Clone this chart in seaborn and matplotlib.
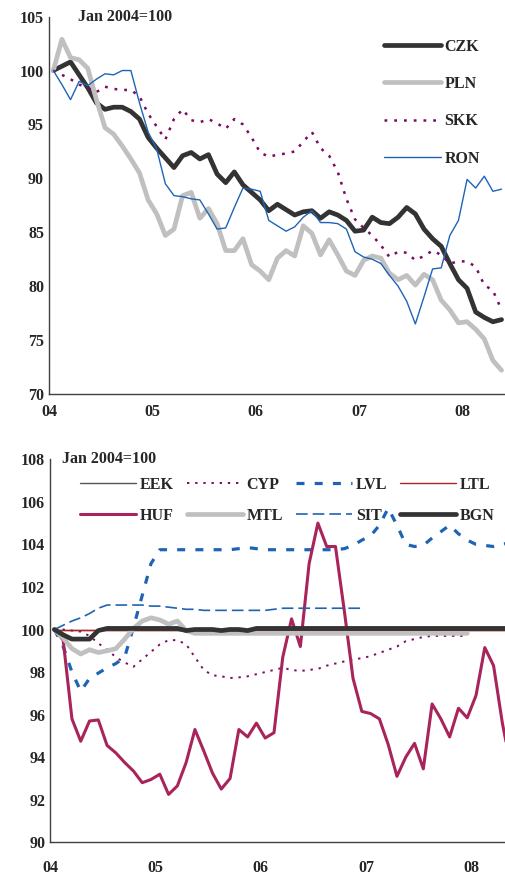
import matplotlib
matplotlib.use("Agg")
import matplotlib.pyplot as plt
import seaborn as sns

# month index (0 = Jan 2004), points drawn at mid-month
czk = [100.0, 100.4, 100.8, 99.6, 98.4, 97.0, 96.4, 96.6, 96.6, 96.2,
       95.5, 93.8, 92.8, 91.9, 91.0, 92.1, 92.4, 91.8, 92.2, 90.4,
       89.6, 90.6, 89.4, 88.7, 88.0, 87.0, 87.6, 87.1, 86.6, 86.9,
       87.0, 86.3, 86.9, 86.6, 86.1, 85.1, 85.2, 86.4, 85.9, 85.8,
       86.4, 87.3, 86.7, 85.3, 84.4, 83.7, 82.1, 80.6, 79.8, 77.6,
       77.1, 76.7, 76.9]
pln = [100.0, 102.9, 101.2, 101.0, 100.2, 97.3, 94.7, 94.1, 93.0, 91.8,
       90.5, 88.0, 86.7, 84.7, 85.3, 88.4, 88.7, 86.3, 87.2, 85.8,
       83.3, 83.3, 84.4, 82.0, 81.4, 80.6, 82.6, 83.3, 82.8, 85.6,
       84.9, 82.9, 84.3, 82.9, 81.4, 81.0, 82.4, 82.8, 82.6, 81.2,
       80.6, 81.0, 80.1, 81.1, 80.6, 78.7, 77.8, 76.6, 76.7, 76.0,
       75.1, 73.1, 72.2]
skk = [100.0, 99.6, 99.2, 98.7, 98.4, 98.0, 98.5, 98.3, 98.2, 98.2,
       97.6, 96.0, 94.8, 93.6, 95.5, 96.4, 95.4, 95.2, 95.5, 95.1,
       94.6, 95.5, 95.0, 93.8, 92.4, 92.0, 92.2, 92.3, 92.5, 93.4,
       94.3, 92.8, 92.1, 90.6, 88.1, 86.2, 85.4, 84.7, 83.8, 82.7,
       83.2, 83.1, 82.4, 82.8, 83.3, 82.9, 82.1, 82.3, 82.3, 81.8,
       80.1, 79.6, 77.8]
ron = [100.0, 98.7, 97.3, 99.0, 98.6, 99.2, 99.7, 99.6, 100.0, 100.0,
       97.0, 94.3, 92.7, 89.5, 88.4, 88.3, 88.1, 88.0, 86.7, 85.3,
       85.4, 87.3, 89.1, 89.0, 88.8, 86.1, 85.6, 85.1, 85.5, 86.4,
       87.0, 85.9, 85.9, 85.8, 85.3, 83.2, 82.7, 82.5, 82.1, 81.0,
       80.0, 78.6, 76.5, 79.0, 81.6, 81.7, 84.7, 86.1, 89.9, 89.1,
       90.2, 88.8, 89.0]

eek = [100.0, 100.0, 100.0, 100.0, 100.0, 100.0, 100.0, 100.0, 100.0, 100.0,
       100.0, 100.0, 100.0, 100.0, 100.0, 100.0, 100.0, 100.0, 100.0, 100.0,
       100.0, 100.0, 100.0, 100.0, 100.0, 100.0, 100.0, 100.0, 100.0, 100.0,
       100.0, 100.0, 100.0, 100.0, 100.0, 100.0, 100.0, 100.0, 100.0, 100.0,
       100.0, 100.0, 100.0, 100.0, 100.0, 100.0, 100.0, 100.0, 100.0, 100.0,
       100.0, 100.0, 100.0]
cyp = [100.0, 100.0, 99.95, 99.9, 99.7, 99.35, 99.05, 98.7, 98.45, 98.25,
       98.6, 98.95, 99.3, 99.5, 99.5, 99.3, 98.7, 98.1, 97.85, 97.8,
       97.72, 97.75, 97.8, 97.9, 98.0, 98.1, 98.2, 98.1, 98.05, 98.1,
       98.15, 98.3, 98.4, 98.5, 98.6, 98.65, 98.75, 98.9, 99.05, 99.2,
       99.45, 99.55, 99.65, 99.7, 99.7, 99.7, 99.7, 99.7]
lvl = [100.0, 99.2, 98.0, 97.1, 97.7, 97.95, 98.2, 98.4, 98.7, 100.1,
       101.6, 103.1, 103.75, 103.75, 103.75, 103.75, 103.75, 103.75, 103.75, 103.75,
       103.75, 103.8, 103.85, 103.8, 103.75, 103.75, 103.75, 103.75, 103.75, 103.75,
       103.75, 103.75, 103.75, 103.8, 103.95, 104.2, 104.4, 104.9, 105.7, 104.9,
       104.0, 103.9, 103.95, 104.3, 104.6, 104.9, 104.5, 104.2, 104.0, 103.95,
       103.9, 104.0, 104.1]
ltl = [100.0, 100.0, 100.0, 100.0, 100.0, 100.0, 100.0, 100.0, 100.0, 100.0,
       100.0, 100.0, 100.0, 100.0, 100.0, 100.0, 100.0, 100.0, 100.0, 100.0,
       100.0, 100.0, 100.0, 100.0, 100.0, 100.0, 100.0, 100.0, 100.0, 100.0,
       100.0, 100.0, 100.0, 100.0, 100.0, 100.0, 100.0, 100.0, 100.0, 100.0,
       100.0, 100.0, 100.0, 100.0, 100.0, 100.0, 100.0, 100.0, 100.0, 100.0,
       100.0, 100.0, 100.0]
huf = [100.0, 99.5, 95.8, 94.75, 95.7, 95.75, 94.55, 94.2, 93.75, 93.35,
       92.8, 92.95, 93.2, 92.25, 92.65, 93.75, 95.3, 94.3, 93.25, 92.5,
       93.0, 95.3, 94.95, 95.6, 94.9, 95.15, 98.7, 100.5, 99.2, 103.1,
       105.0, 103.9, 103.9, 100.9, 97.7, 96.15, 96.05, 95.8, 94.6, 93.1,
       94.0, 94.65, 93.45, 96.5, 95.8, 94.95, 96.3, 95.85, 96.9, 99.15,
       98.3, 95.6, 93.5]
mtl = [100.0, 99.6, 99.1, 98.85, 99.05, 98.92, 99.0, 99.1, 99.55, 100.05,
       100.4, 100.55, 100.45, 100.25, 100.4, 99.95, 99.82, 99.82, 99.82, 99.82,
       99.82, 99.82, 99.82, 99.82, 99.82, 99.82, 99.82, 99.82, 99.82, 99.82,
       99.82, 99.82, 99.82, 99.82, 99.82, 99.82, 99.82, 99.82, 99.82, 99.82,
       99.82, 99.82, 99.82, 99.82, 99.82, 99.82, 99.82, 99.82]
sit = [100.0, 100.2, 100.4, 100.55, 100.75, 101.0, 101.15, 101.15, 101.15, 101.15,
       101.15, 101.1, 101.1, 101.05, 101.0, 100.95, 100.95, 100.9, 100.9, 100.9,
       100.9, 100.9, 100.9, 100.9, 100.9, 100.95, 101.0, 101.0, 101.0, 101.0,
       101.0, 101.0, 101.0, 101.0, 101.0, 101.0]
bgn = [100.0, 99.75, 99.55, 99.55, 99.55, 99.95, 100.05, 100.05, 100.05, 100.05,
       100.05, 100.05, 100.05, 100.05, 100.05, 99.95, 100.0, 100.0, 100.0, 99.95,
       100.0, 100.0, 99.95, 100.05, 100.05, 100.05, 100.05, 100.05, 100.05, 100.05,
       100.05, 100.05, 100.05, 100.05, 100.05, 100.05, 100.05, 100.05, 100.05, 100.05,
       100.05, 100.05, 100.05, 100.05, 100.05, 100.05, 100.05, 100.05, 100.05, 100.05,
       100.05, 100.05, 100.05]

year_labels = ["04", "05", "06", "07", "08"]

sns.set_style("white")
plt.rcParams["font.family"] = ["Liberation Serif", "DejaVu Serif"]
plt.rcParams["font.weight"] = "bold"

FS = 11.5
DARK = "#333333"
GREY = "#c0c0c0"
PURPLE = "#7a0a64"
BLUE = "#1f64b4"
CRIMSON = "#a8245a"
RED = "#b22222"
AXIS = "#404040"


def months(vals):
    return [i + 0.5 for i in range(len(vals))]


def style_axes(ax, ylo, yhi, ystep, xmax, xpad):
    ax.set_xlim(0, xmax)
    ax.set_ylim(ylo, yhi)
    ax.set_xticks([0, 12, 24, 36, 48])
    ax.set_xticklabels(year_labels)
    ax.set_yticks(range(ylo, yhi + 1, ystep))
    for s in ["top", "right"]:
        ax.spines[s].set_visible(False)
    for s in ["left", "bottom"]:
        ax.spines[s].set_color(AXIS)
        ax.spines[s].set_linewidth(1.0)
    ax.tick_params(axis="x", direction="in", length=3, pad=xpad, labelsize=FS,
                   color=AXIS)
    ax.tick_params(axis="y", direction="in", length=3, pad=3.5, labelsize=FS,
                   color=AXIS)
    for lab in ax.get_xticklabels() + ax.get_yticklabels():
        lab.set_fontweight("bold")
    ax.set_xlabel("")
    ax.set_ylabel("")


fig = plt.figure(figsize=(5.05, 8.75), dpi=100)
ax1 = fig.add_axes([0.097, 0.5497, 0.903, 0.4313])
ax2 = fig.add_axes([0.099, 0.0374, 0.901, 0.4377])

legend_font = dict(family="Liberation Serif", weight="bold", size=FS)

# ---- top panel
top_series = [
    ("CZK", czk, dict(color=DARK, lw=3.4, ls="-")),
    ("PLN", pln, dict(color=GREY, lw=3.4, ls="-")),
    ("SKK", skk, dict(color=PURPLE, lw=1.8, ls=(0, (1.1, 2.8)))),
    ("RON", ron, dict(color=BLUE, lw=1.0, ls="-")),
]
for name, vals, kw in top_series:
    sns.lineplot(x=months(vals), y=vals, ax=ax1, label=name, **kw)

style_axes(ax1, 70, 105, 5, 52.9, 7.5)
ax1.text(0.064, 1.0, "Jan 2004=100", transform=ax1.transAxes, ha="left",
         va="center", fontsize=FS, fontweight="bold")
ax1.legend(loc="upper right", bbox_to_anchor=(0.945, 0.942), frameon=False,
           handlelength=3.6, handletextpad=0.2, labelspacing=1.34,
           borderpad=0, borderaxespad=0, prop=legend_font)

# ---- bottom panel
bottom_series = [
    ("EEK", eek, dict(color="#555555", lw=1.0, ls="-")),
    ("CYP", cyp, dict(color=PURPLE, lw=1.4, ls=(0, (1.2, 3.0)))),
    ("LVL", lvl, dict(color=BLUE, lw=2.3, ls=(0, (2.5, 3.2)))),
    ("LTL", ltl, dict(color=RED, lw=1.0, ls="-")),
    ("HUF", huf, dict(color=CRIMSON, lw=2.2, ls="-")),
    ("MTL", mtl, dict(color=GREY, lw=3.4, ls="-")),
    ("SIT", sit, dict(color=BLUE, lw=1.2, ls=(0, (7, 3)))),
    ("BGN", bgn, dict(color=DARK, lw=3.4, ls="-")),
]
for name, vals, kw in bottom_series:
    sns.lineplot(x=months(vals), y=vals, ax=ax2, label=name, **kw)

style_axes(ax2, 90, 108, 2, 51.8, 12.5)
ax2.text(0.026, 1.0, "Jan 2004=100", transform=ax2.transAxes, ha="left",
         va="center", fontsize=FS, fontweight="bold")

handles, labels = ax2.get_legend_handles_labels()
order = [0, 4, 1, 5, 2, 6, 3, 7]  # column-wise fill for 2 rows x 4 cols
ax2.legend([handles[i] for i in order], [labels[i] for i in order],
           ncol=4, loc="upper left", bbox_to_anchor=(0.066, 0.955),
           frameon=False, handlelength=3.5, handletextpad=0.25,
           columnspacing=0.8, labelspacing=0.94, borderpad=0, borderaxespad=0,
           prop=legend_font)

fig.savefig("out.png", dpi=100)
